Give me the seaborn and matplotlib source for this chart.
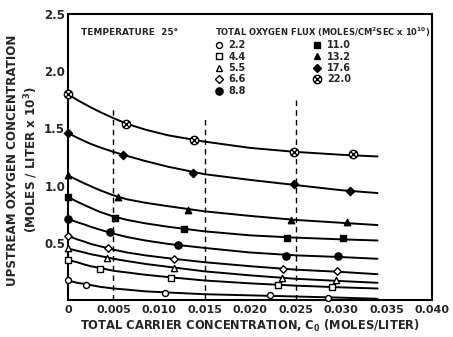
import numpy as np
import pandas as pd
import matplotlib
matplotlib.use("Agg")
import matplotlib.pyplot as plt
import seaborn as sns
from matplotlib.path import Path
from matplotlib.lines import Line2D

# ---- data -------------------------------------------------------------
flux_labels = ["2.2", "4.4", "5.5", "6.6", "8.8", "11.0", "13.2", "17.6", "22.0"]

curve_x = [0, 0.0005, 0.001, 0.0018, 0.0025, 0.0035, 0.005, 0.0065, 0.0085,
           0.011, 0.015, 0.02, 0.025, 0.03, 0.034]
curve_22_0 = [1.80, 1.775, 1.75, 1.715, 1.685, 1.645, 1.59, 1.54, 1.49, 1.44, 1.385, 1.33, 1.295, 1.27, 1.255]
curve_17_6 = [1.46, 1.44, 1.42, 1.39, 1.365, 1.335, 1.295, 1.26, 1.215, 1.165, 1.10, 1.05, 1.005, 0.96, 0.935]
curve_13_2 = [1.09, 1.07, 1.05, 1.02, 0.995, 0.96, 0.915, 0.88, 0.85, 0.82, 0.775, 0.735, 0.70, 0.675, 0.655]
curve_11_0 = [0.90, 0.88, 0.86, 0.83, 0.805, 0.77, 0.73, 0.70, 0.67, 0.64, 0.60, 0.565, 0.545, 0.53, 0.52]
curve_8_8 = [0.71, 0.695, 0.68, 0.66, 0.64, 0.615, 0.58, 0.55, 0.52, 0.49, 0.455, 0.415, 0.39, 0.375, 0.36]
curve_6_6 = [0.56, 0.545, 0.53, 0.51, 0.49, 0.47, 0.44, 0.415, 0.39, 0.365, 0.33, 0.295, 0.265, 0.245, 0.225]
curve_5_5 = [0.45, 0.44, 0.43, 0.415, 0.40, 0.385, 0.36, 0.34, 0.315, 0.29, 0.25, 0.215, 0.185, 0.165, 0.15]
curve_4_4 = [0.35, 0.34, 0.33, 0.31, 0.295, 0.28, 0.255, 0.24, 0.22, 0.20, 0.17, 0.145, 0.125, 0.11, 0.10]
curve_2_2 = [0.17, 0.16, 0.15, 0.14, 0.13, 0.115, 0.10, 0.09, 0.075, 0.065, 0.05, 0.04, 0.03, 0.02, 0.01]

pts_x_22_0 = [0, 0.0064, 0.0138, 0.0248, 0.0313]
pts_y_22_0 = [1.80, 1.54, 1.40, 1.29, 1.28]
pts_x_17_6 = [0, 0.0061, 0.0137, 0.0248, 0.0310]
pts_y_17_6 = [1.46, 1.27, 1.11, 1.01, 0.95]
pts_x_13_2 = [0, 0.0055, 0.0132, 0.0245, 0.0306]
pts_y_13_2 = [1.09, 0.90, 0.79, 0.70, 0.68]
pts_x_11_0 = [0, 0.0052, 0.0127, 0.0241, 0.0302]
pts_y_11_0 = [0.90, 0.72, 0.62, 0.54, 0.54]
pts_x_8_8 = [0, 0.0046, 0.0121, 0.0240, 0.0297]
pts_y_8_8 = [0.71, 0.59, 0.48, 0.38, 0.38]
pts_x_6_6 = [0, 0.0044, 0.0117, 0.0236, 0.0296]
pts_y_6_6 = [0.56, 0.45, 0.36, 0.27, 0.25]
pts_x_5_5 = [0, 0.0043, 0.0116, 0.0235, 0.0294]
pts_y_5_5 = [0.45, 0.37, 0.28, 0.19, 0.17]
pts_x_4_4 = [0, 0.0035, 0.0113, 0.0231, 0.0290]
pts_y_4_4 = [0.35, 0.27, 0.19, 0.13, 0.11]
pts_x_2_2 = [0, 0.0020, 0.0107, 0.0222, 0.0286]
pts_y_2_2 = [0.17, 0.13, 0.06, 0.04, 0.02]

dash_x = [0.005, 0.015, 0.025]
dash_top = [1.69, 1.60, 1.77]

x_ticks = [0, 0.005, 0.010, 0.015, 0.020, 0.025, 0.030, 0.035, 0.040]
x_tick_labels = ["0", "0.005", "0.010", "0.015", "0.020", "0.025", "0.030", "0.035", "0.040"]
y_ticks = [0.5, 1.0, 1.5, 2.0, 2.5]
y_tick_labels = ["0.5", "1.0", "1.5", "2.0", "2.5"]

curves = [curve_2_2, curve_4_4, curve_5_5, curve_6_6, curve_8_8,
          curve_11_0, curve_13_2, curve_17_6, curve_22_0]
pts = [(pts_x_2_2, pts_y_2_2), (pts_x_4_4, pts_y_4_4), (pts_x_5_5, pts_y_5_5),
       (pts_x_6_6, pts_y_6_6), (pts_x_8_8, pts_y_8_8), (pts_x_11_0, pts_y_11_0),
       (pts_x_13_2, pts_y_13_2), (pts_x_17_6, pts_y_17_6), (pts_x_22_0, pts_y_22_0)]

# ---- style ------------------------------------------------------------
sns.set_style("white")
plt.rcParams["font.family"] = ["DejaVu Sans"]
plt.rcParams["font.weight"] = "bold"
plt.rcParams["mathtext.default"] = "bf"

circ = Path.unit_circle()
k = 0.7
cross_path = Path.make_compound_path(
    circ,
    Path([[-k, -k], [k, k]], [Path.MOVETO, Path.LINETO]),
    Path([[-k, k], [k, -k]], [Path.MOVETO, Path.LINETO]),
)

marker_styles = [
    ("o", "white"), ("s", "white"), ("^", "white"), ("D", "white"), ("o", "black"),
    ("s", "black"), ("^", "black"), ("D", "black"), (cross_path, "white"),
]
marker_sizes = [4.3, 4.0, 4.5, 3.8, 5.2, 4.2, 4.6, 4.2, 6.0]

fig = plt.figure(figsize=(4.53, 3.37), dpi=100)
ax = fig.add_axes([0.150, 0.110, 0.804, 0.848])

for i, lab in enumerate(flux_labels):
    dfc = pd.DataFrame({"x": curve_x, "y": curves[i]})
    sns.lineplot(data=dfc, x="x", y="y", ax=ax, color="black", lw=1.4,
                 legend=False, zorder=2)
    px, py = pts[i]
    mk, fc = marker_styles[i]
    ms = marker_sizes[i]
    dfp = pd.DataFrame({"x": px, "y": py})
    sns.scatterplot(data=dfp, x="x", y="y", ax=ax, marker=mk, s=ms ** 2,
                    facecolor=fc, edgecolor="black", linewidth=1.0, zorder=3,
                    legend=False, clip_on=False)

for xv, yt in zip(dash_x, dash_top):
    ax.vlines(xv, 0, yt, colors="black", linestyles=(0, (4, 3)), lw=1.0, zorder=1)

ax.set_xlim(0, 0.040)
ax.set_ylim(0, 2.5)
ax.set_xticks(x_ticks)
ax.set_xticklabels(x_tick_labels, fontsize=8)
ax.set_yticks(y_ticks)
ax.set_yticklabels(y_tick_labels, fontsize=8.5)
ax.tick_params(direction="in", length=9, width=1.2, color="black")
ax.tick_params(axis="x", pad=4)
ax.tick_params(axis="y", pad=2)
for sp in ax.spines.values():
    sp.set_linewidth(1.5)
    sp.set_color("black")

ax.set_xlabel("TOTAL CARRIER CONCENTRATION, C$_0$ (MOLES/LITER)", fontsize=8.3,
              fontweight="bold", labelpad=2)
ax.set_ylabel("UPSTREAM OXYGEN CONCENTRATION\n(MOLES / LITER x 10$^3$)", fontsize=8.6,
              fontweight="bold", linespacing=1.2)
ax.yaxis.set_label_coords(-0.078, 0.49)

ax.text(0.036, 0.935, "TEMPERATURE  25°", transform=ax.transAxes, fontsize=6.5,
        fontweight="bold", va="center", ha="left")

handles = []
for i, lab in enumerate(flux_labels):
    mk, fc = marker_styles[i]
    handles.append(Line2D([], [], ls="none", marker=mk, markersize=marker_sizes[i],
                          markerfacecolor=fc, markeredgecolor="black",
                          markeredgewidth=1.0, label=lab))
leg = ax.legend(handles=handles, ncol=2, frameon=False, loc="upper left",
                bbox_to_anchor=(0.385, 0.985), fontsize=7,
                title="TOTAL OXYGEN FLUX (MOLES/CM$^2$SEC x 10$^{10}$)",
                title_fontsize=6, alignment="left", handlelength=0.8,
                handletextpad=0.6, columnspacing=6.9, labelspacing=0.15,
                borderpad=0.2)
for t in leg.get_texts():
    t.set_fontweight("bold")
leg.get_title().set_fontweight("bold")

fig.savefig("out.png", dpi=100)
